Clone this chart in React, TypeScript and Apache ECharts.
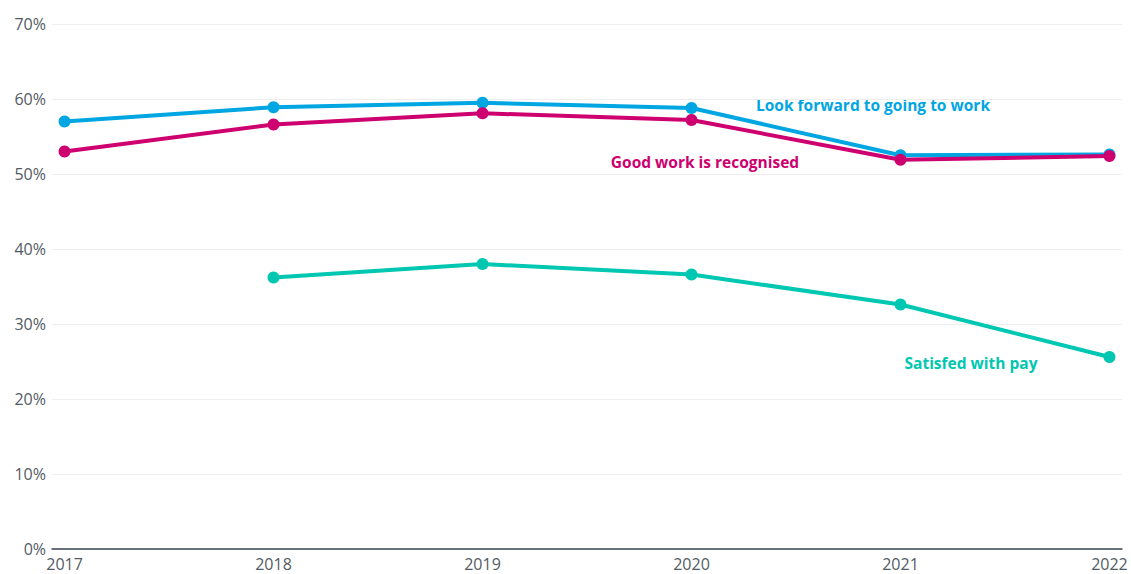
import React, { useEffect, useRef } from "react";
import * as echarts from "echarts";

const years = [2017, 2018, 2019, 2020, 2021, 2022];
const lookForward = [57.0, 58.9, 59.5, 58.8, 52.5, 52.6];
const goodWork = [53.0, 56.6, 58.1, 57.2, 51.9, 52.4];
const satisfiedPay = [null, 36.2, 38.0, 36.6, 32.6, 25.6];
const yTicks = [0, 10, 20, 30, 40, 50, 60, 70];

const FONT = "'Open Sans', 'Noto Sans', sans-serif";
const BLUE = "#00A6E2";
const MAGENTA = "#CE0070";
const TEAL = "#00C7B1";

function pairs(vals: (number | null)[]) {
  return years.map((y, i) => [y, vals[i]]).filter((p) => p[1] !== null);
}

function lineSeries(name: string, vals: (number | null)[], color: string, z: number) {
  return {
    name,
    type: "line",
    data: pairs(vals),
    symbol: "circle",
    symbolSize: 12,
    lineStyle: { color, width: 4 },
    itemStyle: { color },
    z,
  };
}

export default function App() {
  const ref = useRef<HTMLDivElement>(null);
  useEffect(() => {
    if (!ref.current) return;
    const chart = echarts.init(ref.current, undefined, { renderer: "svg" });
    chart.setOption({
      animation: false,
      grid: { left: 52, right: 9, top: 24, bottom: 25, containLabel: false },
      xAxis: {
        type: "value",
        min: 2016.94,
        max: 2022.06,
        splitLine: { show: false },
        axisTick: { show: false },
        axisLine: { show: true, lineStyle: { color: "#3a4650", width: 1.5 } },
        axisLabel: {
          customValues: years,
          formatter: (v: number) => String(Math.round(v)),
          color: "#525b63",
          fontFamily: FONT,
          fontSize: 16,
          margin: 7,
        },
      },
      yAxis: {
        type: "value",
        min: 0,
        max: 70,
        interval: 10,
        axisLine: { show: false },
        axisTick: { show: false },
        splitLine: { lineStyle: { color: "#eeeeee", width: 1 } },
        axisLabel: {
          customValues: yTicks,
          formatter: (v: number) => v + "%",
          color: "#525b63",
          fontFamily: FONT,
          fontSize: 16,
          margin: 6,
        },
      },
      series: [
        lineSeries("Satisfed with pay", satisfiedPay, TEAL, 3),
        lineSeries("Look forward to going to work", lookForward, BLUE, 3),
        lineSeries("Good work is recognised", goodWork, MAGENTA, 4),
      ],
      graphic: [
        {
          type: "text",
          x: 873,
          y: 105,
          style: {
            text: "Look forward to going to work",
            fill: BLUE,
            font: `bold 15.5px ${FONT}`,
            align: "center",
            verticalAlign: "middle",
          },
        },
        {
          type: "text",
          x: 705,
          y: 162,
          style: {
            text: "Good work is recognised",
            fill: MAGENTA,
            font: `bold 15.5px ${FONT}`,
            align: "center",
            verticalAlign: "middle",
          },
        },
        {
          type: "text",
          x: 971,
          y: 363,
          style: {
            text: "Satisfed with pay",
            fill: TEAL,
            font: `bold 15.5px ${FONT}`,
            align: "center",
            verticalAlign: "middle",
          },
        },
      ],
    });
    return () => chart.dispose();
  }, []);
  return (
    <div
      ref={ref}
      style={{ position: "absolute", left: 0, top: 0, width: 1131, height: 574, background: "#fff" }}
    />
  );
}
